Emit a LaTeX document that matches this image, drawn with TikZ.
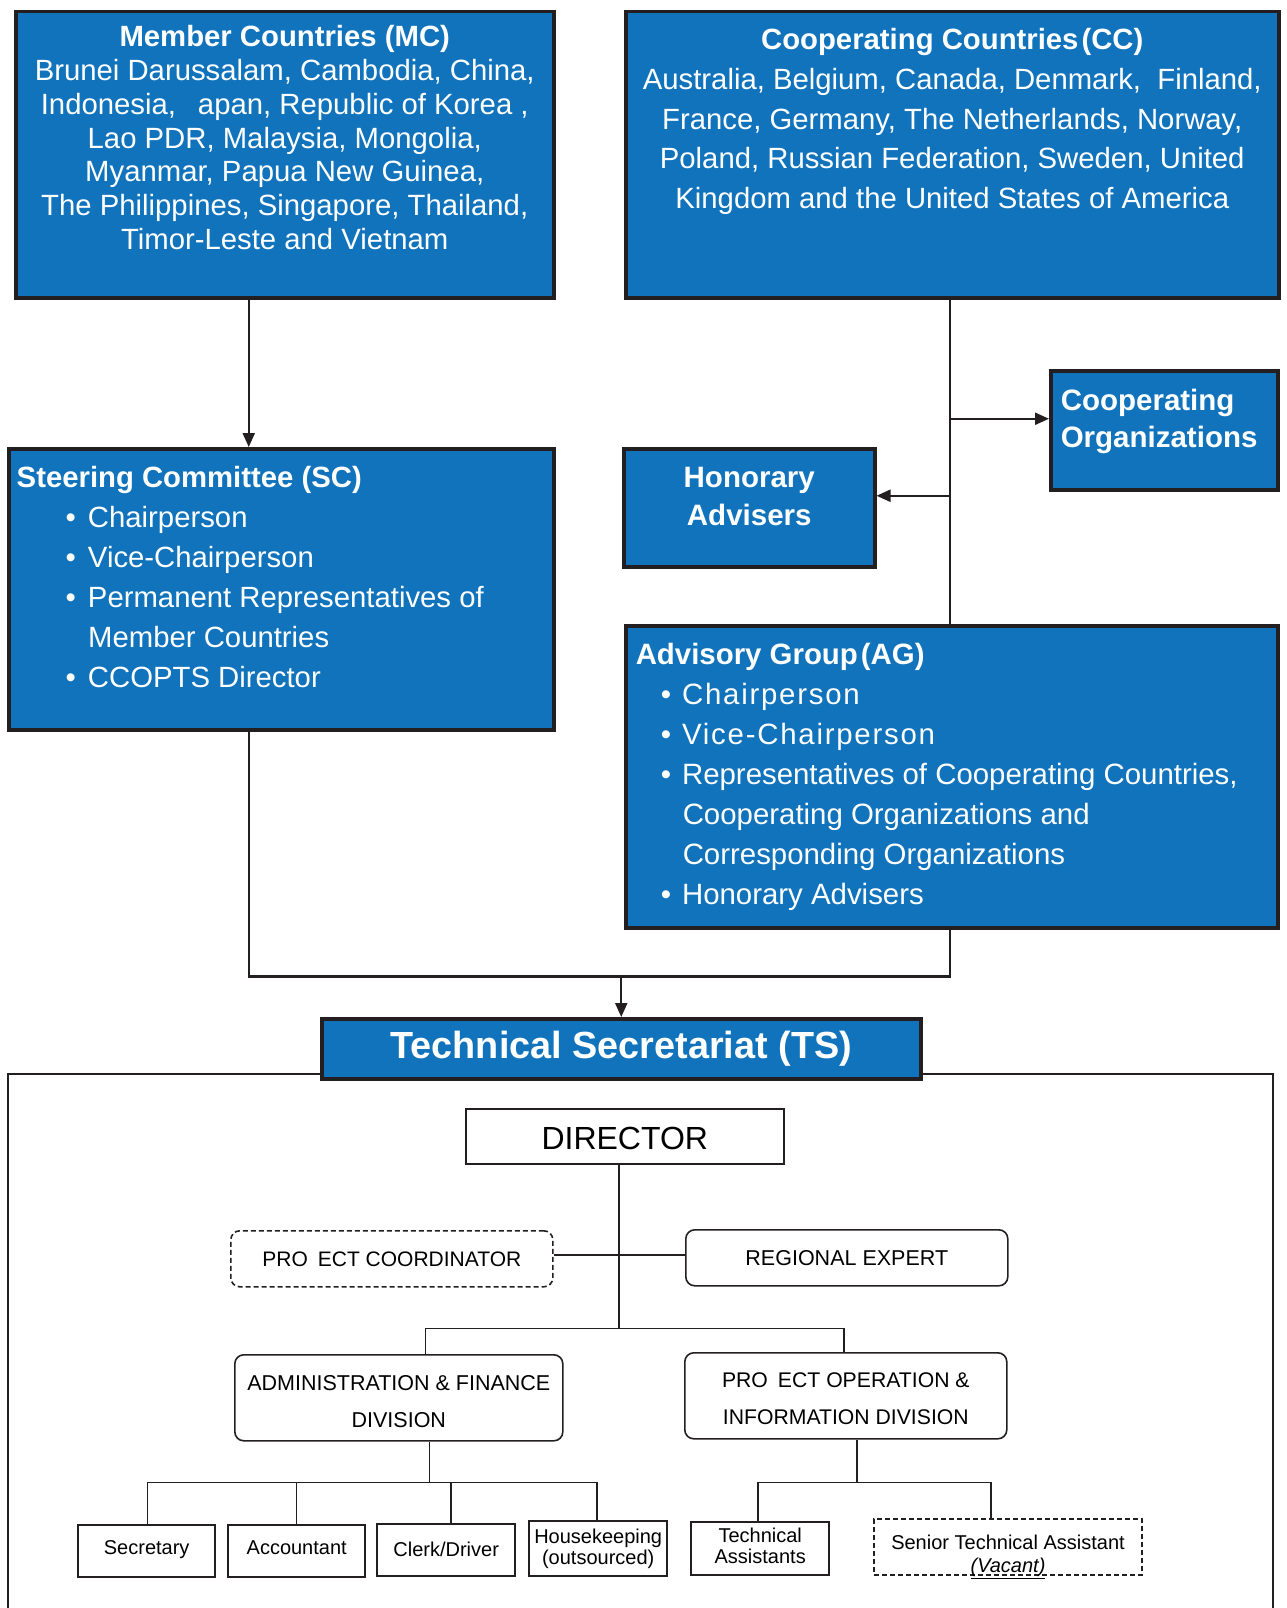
\documentclass[tikz,border=0pt]{standalone}
\usepackage{fontspec}
\setmainfont{Liberation Sans}
\usetikzlibrary{arrows.meta,calc}
\definecolor{tsblue}{RGB}{16,115,188}
\definecolor{edge}{RGB}{35,31,32}
\newcommand{\fsz}[2]{\fontsize{#1}{#2}\selectfont}
\newcommand{\shiftup}[2]{\raisebox{#1}[\height][\depth]{#2}}
\begin{document}
\begin{tikzpicture}[x=1pt,y=-1pt,
  bluebox/.style={draw=edge, line width=3.5pt, fill=tsblue, text=white, inner sep=0pt, anchor=north west},
  conn/.style={draw=edge, line width=2.2pt},
  arr/.style={conn, -{Triangle[length=14pt,width=12pt]}},
  oconn/.style={draw=edge, line width=1.5pt},
  plainbox/.style={draw=edge, line width=1.6pt, inner sep=0pt, anchor=north west, align=center},
  roundbox/.style={plainbox, rounded corners=9pt},
  smallbox/.style={draw=edge, line width=2.4pt, inner sep=0pt, anchor=north west, align=center, font=\fsz{20}{20.5}},
  dashbox/.style={dash pattern=on 5pt off 3pt}]
\useasboundingbox (0,0) rectangle (1286,1608);

% ---------- top blue boxes ----------
\node[bluebox] (mc) at (14,10) {\parbox[t][286pt][t]{538pt}{\centering\fsz{29.3}{33.8}%
\rule{0pt}{35pt}\textbf{Member Countries (MC)}\\
Brunei Darussalam, Cambodia, China,\\
Indonesia,\hspace{22pt}apan, Republic of Korea ,\\
Lao PDR, Malaysia, Mongolia,\\
Myanmar, Papua New Guinea,\\
The Philippines, Singapore, Thailand,\\
Timor-Leste and Vietnam}};

\node[bluebox] (cc) at (624,10) {\parbox[t][286pt][t]{653pt}{\centering\fsz{29.3}{39.7}%
\rule{0pt}{38pt}\textbf{Cooperating Countries\hspace{3pt}(CC)}\\
Australia, Belgium, Canada, Denmark,~ Finland,\\
France, Germany, The Netherlands, Norway,\\
Poland, Russian Federation, Sweden, United\\
Kingdom and the United States of America}};

\node[bluebox] (coop) at (1049,369) {\parbox[t][119pt][t]{227pt}{\fsz{29.5}{37}\bfseries
\rule{0pt}{40pt}\hspace*{10pt}Cooperating\\
\hspace*{10pt}Organizations}};

\node[bluebox] (hon) at (622,447) {\parbox[t][118pt][t]{251pt}{\centering\fsz{29.5}{38}\bfseries
\rule{0pt}{38.5pt}Honorary\\
Advisers}};

\node[bluebox] (sc) at (7,447) {\parbox[t][281pt][t]{545pt}{\fsz{29.3}{40}%
\rule{0pt}{38.5pt}\hspace*{8pt}\textbf{Steering Committee (SC)}\\
\hspace*{57pt}\textbullet\hspace{12pt}Chairperson\\
\hspace*{57pt}\textbullet\hspace{12pt}Vice-Chairperson\\
\hspace*{57pt}\textbullet\hspace{12pt}Permanent Representatives of\\
\hspace*{79.5pt}Member Countries\\
\hspace*{57pt}\textbullet\hspace{12pt}CCOPTS Director}};

\node[bluebox] (ag) at (624,624) {\parbox[t][302pt][t]{652pt}{\fsz{29.4}{40}%
\rule{0pt}{38.5pt}\hspace*{10pt}\textbf{Advisory Group\hspace{3pt}(AG)}\\
\hspace*{35pt}\textbullet\hspace{11pt}{\addfontfeature{LetterSpace=6}Chairperson}\\
\hspace*{35pt}\textbullet\hspace{11pt}{\addfontfeature{LetterSpace=6}Vice-Chairperson}\\
\hspace*{35pt}\textbullet\hspace{11pt}Representatives of Cooperating Countries,\\
\hspace*{57pt}Cooperating Organizations and\\
\hspace*{57pt}Corresponding Organizations\\
\hspace*{35pt}\textbullet\hspace{11pt}Honorary Advisers}};

% ---------- top connectors ----------
\draw[arr] ([xshift=-36pt]mc.south) -- ([xshift=-36pt]mc.south |- sc.north);
\coordinate (trunk) at ([xshift=-2pt]cc.south);
\coordinate (coopin) at ([yshift=11.5pt]coop.west);
\coordinate (honin) at ([yshift=12pt]hon.east);
\draw[conn] (trunk) -- (trunk |- ag.north);
\draw[arr] (trunk |- coopin) -- (coopin);
\draw[arr] (trunk |- honin) -- (honin);
\coordinate (scout) at ([xshift=-32.5pt]sc.south);
\coordinate (agout) at ([xshift=-1.5pt]ag.south);
\coordinate (bar) at ($(scout)+(0,245)$);

% ---------- technical secretariat frame ----------
\draw[edge, line width=1.5pt] (8,1625) |- (1273,1074) -- (1273,1625);
\node[bluebox, minimum width=599pt, minimum height=60pt, font=\fsz{37.8}{40}\bfseries] (ts) at (320,1017) {Technical Secretariat (TS)};
\draw[conn] (scout) -- (bar) -| (agout);
\draw[arr] (bar -| ts.north) -- (ts.north);

% ---------- org chart ----------
\node[plainbox, minimum width=318pt, minimum height=55pt, font=\fsz{32}{34}] (dir) at (465,1108) {\shiftup{-2pt}{DIRECTOR}};
\node[roundbox, dashbox, minimum width=322pt, minimum height=56pt, font=\fsz{21}{22}] (pc) at (230,1230) {PRO\hspace{10pt}ECT COORDINATOR};
\node[roundbox, minimum width=322pt, minimum height=56pt, font=\fsz{21.5}{22}] (re) at (685,1229) {REGIONAL EXPERT};
\node[roundbox, minimum width=328pt, minimum height=86pt, font=\fsz{21.5}{37}] (admin) at (234,1354) {\shiftup{-4pt}{\parbox{328pt}{\centering ADMINISTRATION \& FINANCE\\DIVISION}}};
\node[roundbox, minimum width=322pt, minimum height=86pt, font=\fsz{21.2}{37}] (projop) at (684,1352) {\shiftup{-3pt}{\parbox{322pt}{\centering PRO\hspace{10pt}ECT OPERATION \&\\INFORMATION DIVISION}}};

\node[smallbox, minimum width=137pt, minimum height=52pt] (sec) at (77,1524) {\shiftup{2pt}{Secretary}};
\node[smallbox, minimum width=137pt, minimum height=52pt] (acc) at (227,1524) {\shiftup{3.5pt}{Accountant}};
\node[smallbox, minimum width=138pt, minimum height=52pt] (clerk) at (376,1523) {\shiftup{1pt}{Clerk/Driver}};
\node[smallbox, minimum width=138pt, minimum height=55pt] (house) at (528,1520) {Housekeeping\\(outsourced)};
\node[smallbox, minimum width=138pt, minimum height=53pt] (techa) at (690,1521) {\shiftup{3pt}{\parbox{138pt}{\centering Technical\\Assistants}}};
\node[smallbox, dashbox, line width=2pt, minimum width=268pt, minimum height=56pt] (senior) at (873,1518) {};
\node[font=\fsz{20}{23}, align=center, inner sep=0pt] (seniortxt) at ([yshift=-10pt]senior.center) {Senior Technical Assistant\\\underline{\textit{(Vacant)}}};

\coordinate (dirout) at ([xshift=-6pt]dir.south);
\coordinate (orgbar) at ($(dirout)+(0,164)$);
\draw[oconn] (dirout) -- (orgbar);
\coordinate (pcr) at ([yshift=4pt]pc.east);
\draw[oconn] (pcr) -- (pcr -| re.west);
\draw[oconn] ([xshift=26.5pt]admin.north) |- (orgbar) -| ([xshift=-2pt]projop.north);

\coordinate (adout) at ([xshift=30.5pt]admin.south);
\coordinate (adbar) at ($(adout)+(0,41)$);
\coordinate (secin) at ([xshift=1pt]sec.north);
\coordinate (clin) at ([xshift=5pt]clerk.north);
\coordinate (housein) at ([xshift=-1pt]house.north);
\draw[oconn] (adout) -- (adbar);
\draw[oconn] (secin) |- (adbar) -| (housein);
\draw[oconn] (acc.north) -- (acc.north |- adbar);
\draw[oconn] (clin) -- (clin |- adbar);

\coordinate (pjout) at ([xshift=11pt]projop.south);
\coordinate (pjbar) at ($(pjout)+(0,43)$);
\coordinate (techin) at ([xshift=-2pt]techa.north);
\coordinate (senin) at ([xshift=-17pt]senior.north);
\draw[oconn] (pjout) -- (pjbar);
\draw[oconn] (techin) |- (pjbar) -| (senin);
\end{tikzpicture}
\end{document}
